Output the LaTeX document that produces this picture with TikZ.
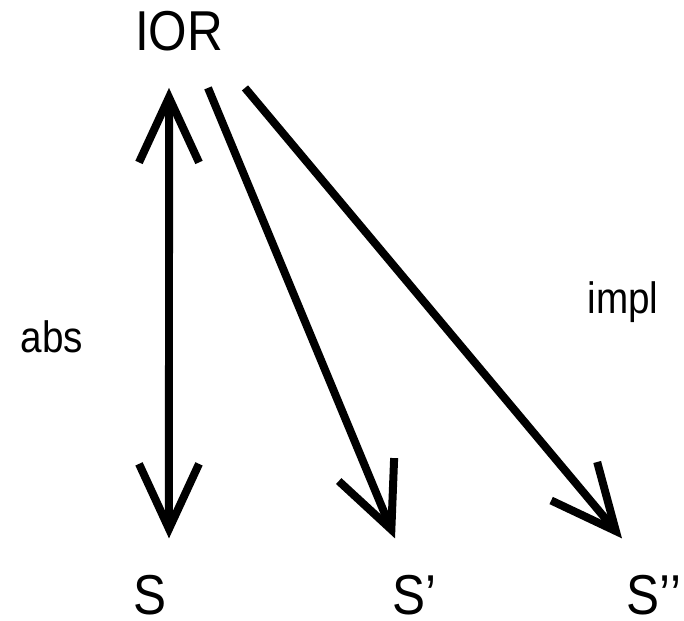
\documentclass[tikz,border=0pt]{standalone}
\usepackage{fontspec}
\setmainfont{Liberation Sans}
\usetikzlibrary{arrows.meta}
\definecolor{inkblack}{HTML}{000000}

\tikzset{
  biglabel/.style={text=inkblack,inner sep=0pt,anchor=base,xscale=0.88,
    font=\fontsize{32pt}{36pt}\selectfont},
  smalllabel/.style={text=inkblack,inner sep=0pt,anchor=base,xscale=0.88,
    font=\fontsize{25pt}{30pt}\selectfont},
  barb/.tip={Straight Barb[length=1.3cm,width=1.2cm]},
  refarrow/.style={draw=inkblack,line width=0.16cm,-barb},
}

\begin{document}
\begin{tikzpicture}[x=0.02cm,y=-0.02cm]
    \useasboundingbox (0,0) rectangle (684,620);

    % Top object
    \node[biglabel] (ior) at (179,50) {IOR};

    % Bottom row of specifications
    \node[biglabel] (s) at (150,614) {S};
    \node[biglabel] (sp) at (414,614) {S’};
    \node[biglabel] (spp) at (654,614) {S’’};

    % Arrow labels
    \node[smalllabel] (abs) at (52,352) {abs};
    \node[smalllabel] (impl) at (623,313) {impl};

    % Abstraction goes both ways
    \draw[refarrow,barb-barb] ([xshift=-0.2cm,yshift=-0.74cm]ior.south)
        -- ([xshift=0.38cm,yshift=0.72cm]s.north);
    % Implementations
    \draw[refarrow] ([xshift=0.58cm,yshift=-0.74cm]ior.south)
        -- ([xshift=-0.38cm,yshift=0.72cm]sp.north);
    \draw[refarrow] ([xshift=1.32cm,yshift=-0.74cm]ior.south)
        -- ([xshift=-0.64cm,yshift=0.72cm]spp.north);
\end{tikzpicture}
\end{document}
